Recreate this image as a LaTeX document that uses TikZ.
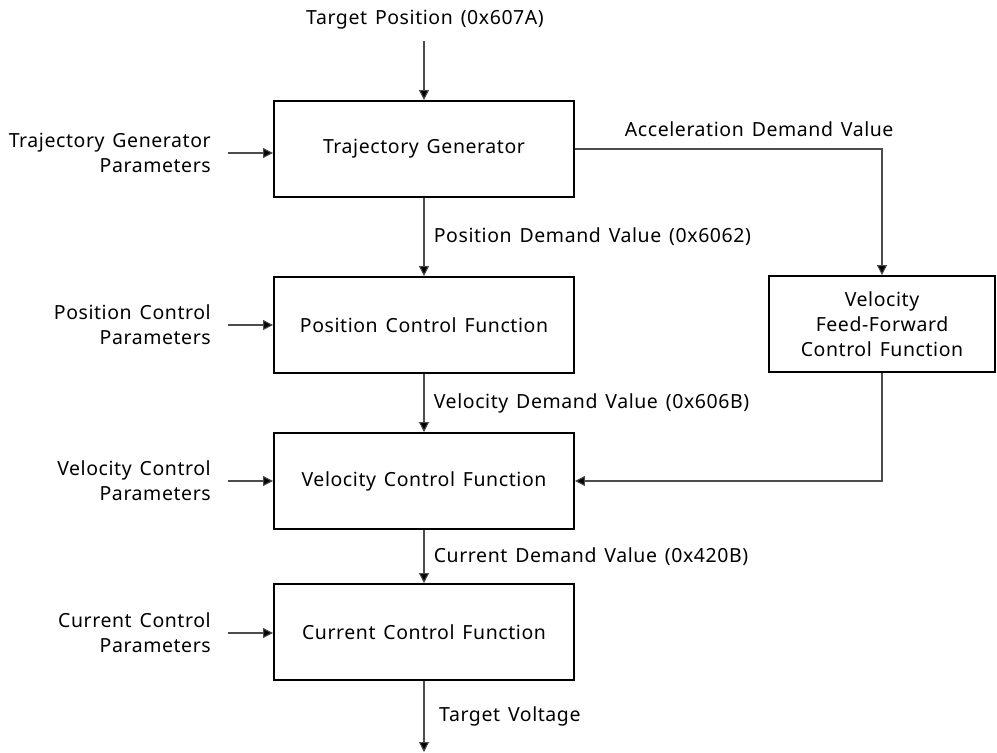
\documentclass[tikz,border=0pt]{standalone}
\usepackage{fontspec}
\setmainfont{Noto Sans}[LetterSpace=3, WordSpace=1.4]
\usetikzlibrary{arrows.meta}

\tikzset{
  block/.style={draw, line width=1.4pt, minimum width=225pt, minimum height=72pt, align=center, inner sep=2pt},
  flow/.style={draw=black!70, line width=0.8pt, -{Triangle[length=7.5pt,width=7.5pt,fill=black]}},
  lbl/.style={inner sep=0pt, align=right},
  tag/.style={midway, anchor=west, inner sep=0pt, xshift=7pt, text=black},
}

\begin{document}
\begin{tikzpicture}[x=0.75pt,y=-0.75pt, font=\fontsize{14.6}{18.75}\selectfont]
\useasboundingbox (0,0) rectangle (997,753);
% main chain
\node[block] (traj) at (424,149) {Trajectory Generator};
\node[block] (pos) at (424,325) {Position Control Function};
\node[block] (vel) at (424,481) {Velocity Control Function};
\node[block] (cur) at (424,632) {Current Control Function};
\node[block, minimum width=170pt] (ff) at (882,324) {Velocity\\Feed-Forward\\Control Function};
% parameter inputs
\node[lbl, anchor=east] (trajin) at (211,153) {Trajectory Generator\\Parameters};
\node[lbl, anchor=east] (posin) at (211,325) {Position Control\\Parameters};
\node[lbl, anchor=east] (velin) at (211,481) {Velocity Control\\Parameters};
\node[lbl, anchor=east] (curin) at (211,633) {Current Control\\Parameters};
\draw[flow] ([xshift=12.75pt]trajin.east) -- (trajin.east -| traj.west);
\draw[flow] ([xshift=12.75pt]posin.east) -- (posin.east -| pos.west);
\draw[flow] ([xshift=12.75pt]velin.east) -- (velin.east -| vel.west);
\draw[flow] ([xshift=12.75pt]curin.east) -- (curin.east -| cur.west);
% set point and output
\node[inner sep=0pt] (target) at (425,20) {Target Position (0x607A)};
\coordinate (tgt) at (424,41);
\coordinate (out) at (424,752);
\draw[flow] (tgt) -- (traj.north);
\draw[flow] (traj.south) -- (pos.north) node[tag] {Position Demand Value (0x6062)};
\draw[flow] (pos.south) -- (vel.north) node[tag] {Velocity Demand Value (0x606B)};
\draw[flow] (vel.south) -- (cur.north) node[tag] {Current Demand Value (0x420B)};
\draw[flow] (cur.south) -- (out) node[tag, xshift=4pt] {Target Voltage};
% feed-forward path
\draw[flow] (traj.east) -| (ff.north) node[pos=0.3, above=9pt, inner sep=0pt, text=black] {Acceleration Demand Value};
\draw[flow] (ff.south) |- (vel.east);
\end{tikzpicture}
\end{document}
